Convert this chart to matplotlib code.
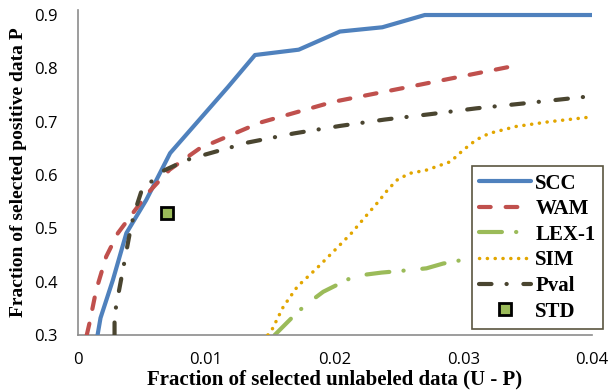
import matplotlib
matplotlib.use("Agg")
import matplotlib.pyplot as plt

# ---- data ----
scc_x = [0.00156, 0.00179, 0.00275, 0.0038, 0.00534, 0.0072, 0.0117, 0.0138, 0.0172, 0.0204, 0.0237, 0.0270, 0.0400]
scc_y = [0.300, 0.332, 0.403, 0.491, 0.553, 0.641, 0.765, 0.825, 0.835, 0.869, 0.877, 0.900, 0.900]

wam_x = [0.00072, 0.00093, 0.00145, 0.00223, 0.00314, 0.00469, 0.00547, 0.00716, 0.0095, 0.01416, 0.01984, 0.0253, 0.03424]
wam_y = [0.300, 0.322, 0.384, 0.447, 0.491, 0.541, 0.566, 0.610, 0.650, 0.698, 0.737, 0.763, 0.806]

lex_x = [0.01533, 0.01715, 0.01805, 0.0191, 0.02117, 0.02233, 0.02363, 0.02506, 0.02713, 0.02843, 0.03064, 0.0340, 0.0400]
lex_y = [0.300, 0.344, 0.362, 0.381, 0.406, 0.413, 0.417, 0.420, 0.425, 0.434, 0.444, 0.455, 0.470]

sim_x = [0.0148, 0.0151, 0.0160, 0.0171, 0.0186, 0.0200, 0.0213, 0.0226, 0.0235, 0.0239, 0.0248, 0.0258, 0.0271, 0.0290, 0.0300, 0.0310, 0.0320, 0.0341, 0.0367, 0.0400]
sim_y = [0.300, 0.309, 0.353, 0.391, 0.425, 0.459, 0.491, 0.528, 0.553, 0.566, 0.590, 0.603, 0.609, 0.625, 0.647, 0.666, 0.678, 0.691, 0.700, 0.709]

pval_x = [0.00288, 0.00288, 0.00314, 0.00353, 0.00418, 0.00457, 0.00496, 0.00651, 0.00846, 0.00988, 0.01326, 0.01683, 0.0204, 0.02389, 0.0274, 0.0310, 0.0346, 0.0400]
pval_y = [0.300, 0.337, 0.372, 0.422, 0.506, 0.540, 0.569, 0.606, 0.628, 0.638, 0.661, 0.678, 0.692, 0.704, 0.714, 0.725, 0.734, 0.748]

std_x = [0.00698]
std_y = [0.529]

x_ticks = [0, 0.01, 0.02, 0.03, 0.04]
x_labels = ["0", "0.01", "0.02", "0.03", "0.04"]
y_ticks = [0.3, 0.4, 0.5, 0.6, 0.7, 0.8, 0.9]
y_labels = ["0.3", "0.4", "0.5", "0.6", "0.7", "0.8", "0.9"]

# ---- figure ----
fig = plt.figure(figsize=(6.09, 3.90), dpi=100)
ax = fig.add_axes([77.5 / 609, 55 / 390, (592 - 77.5) / 609, (335 - 10) / 390])

lw = 3.0
ax.plot(scc_x, scc_y, color="#4F81BD", lw=lw, solid_capstyle="round", label="SCC", zorder=3)
ax.plot(wam_x, wam_y, color="#C0504D", lw=lw, dashes=(2.8, 3.6), dash_capstyle="round", label="WAM", zorder=3)
ax.plot(lex_x, lex_y, color="#9BBB59", lw=lw, dashes=(5.5, 3.4, 0.05, 4.5), dash_capstyle="round", label="LEX-1", zorder=2)
ax.plot(sim_x, sim_y, color="#E2A600", lw=2.5, dashes=(0.05, 2.2), dash_capstyle="round", label="SIM", zorder=3)
ax.plot(pval_x, pval_y, color="#4A4530", lw=lw, dashes=(3.0, 3.6, 0.05, 4.0), dash_capstyle="round", label="Pval", zorder=3)
ax.plot(std_x, std_y, ls="none", marker="s", markersize=8.5, markerfacecolor="#9BBB59",
        markeredgecolor="black", markeredgewidth=2, label="STD", zorder=4)

ax.set_xlim(0, 0.04)
ax.set_ylim(0.3, 0.9094)
ax.set_xticks(x_ticks)
ax.set_xticklabels(x_labels)
ax.set_yticks(y_ticks)
ax.set_yticklabels(y_labels)

for s in ["top", "right"]:
    ax.spines[s].set_visible(False)
for s in ["left", "bottom"]:
    ax.spines[s].set_color("#8C8C8C")
    ax.spines[s].set_linewidth(1.2)
ax.tick_params(axis="both", length=0, labelsize=12, colors="black")
ax.tick_params(axis="y", pad=14)
ax.tick_params(axis="x", pad=12)
for t in ax.get_xticklabels() + ax.get_yticklabels():
    t.set_fontfamily("Open Sans")

ax.set_xlabel("Fraction of selected unlabeled data (U - P)", fontfamily="Liberation Serif",
              fontweight="bold", fontsize=15, labelpad=1)
ax.set_ylabel("Fraction of selected positive data P", fontfamily="Liberation Serif",
              fontweight="bold", fontsize=14, labelpad=5)

leg = fig.legend(loc="upper left", bbox_to_anchor=(471.5 / 609, 1 - 166 / 390),
                 prop={"family": "Liberation Serif", "weight": "bold", "size": 15},
                 frameon=True, fancybox=False, framealpha=1, edgecolor="#5A5540",
                 handlelength=2.5, handletextpad=0.2, labelspacing=0.27,
                 borderpad=0.36, borderaxespad=0)
leg.get_frame().set_linewidth(1.2)
leg.set_zorder(10)

fig.savefig("out.png", dpi=100)
